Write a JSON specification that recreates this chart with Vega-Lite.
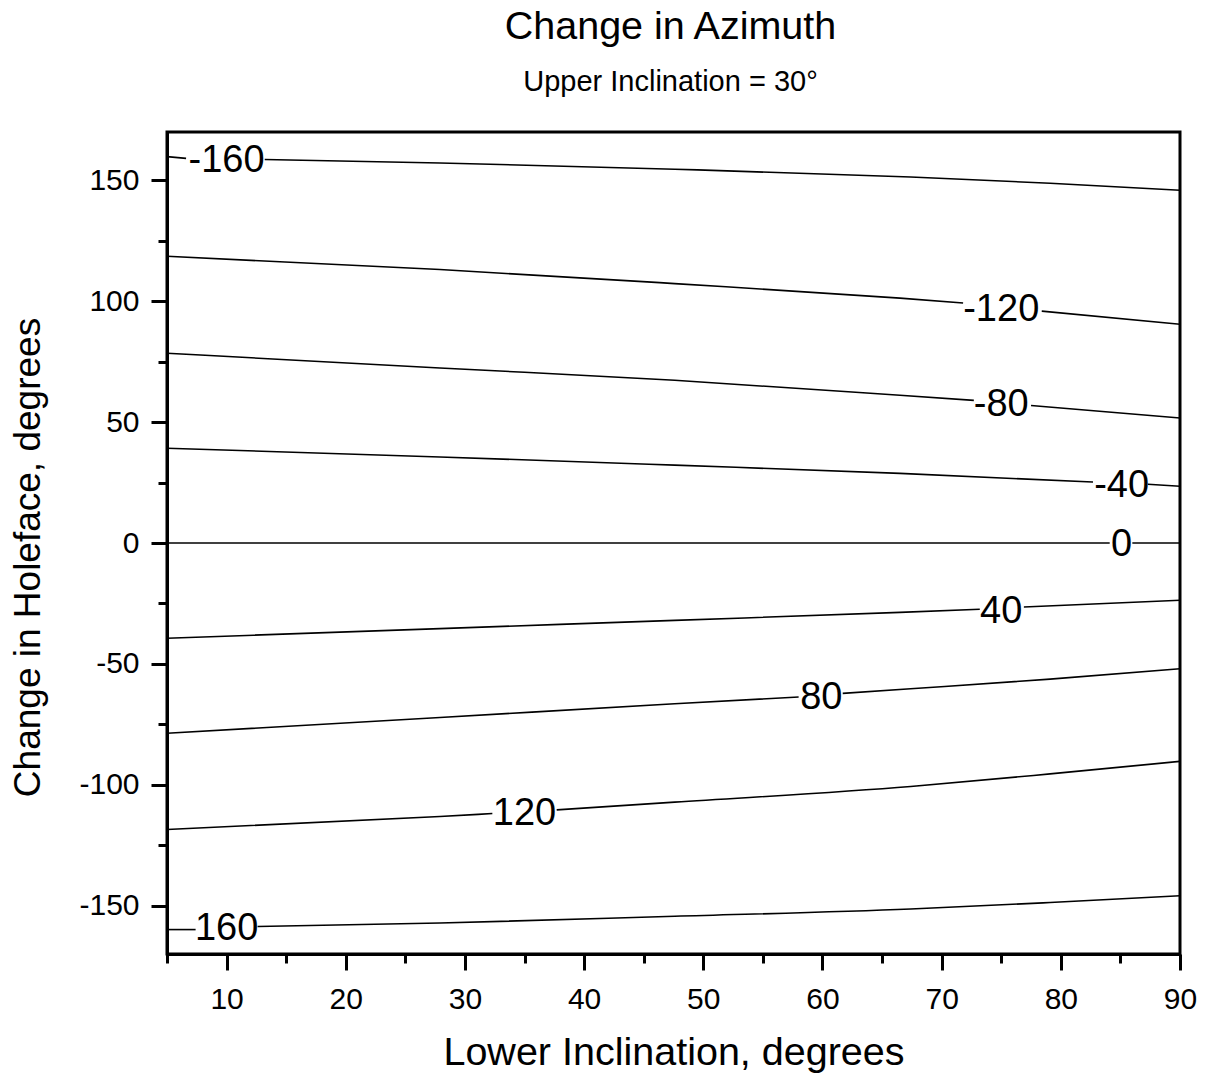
{
  "$schema": "https://vega.github.io/schema/vega-lite/v6.json",
  "autosize": {"type": "none"},
  "padding": {"left": 167, "top": 132, "right": 35, "bottom": 124},
  "width": 1013,
  "height": 822,
  "background": "white",
  "config": {
    "view": {"stroke": "black", "strokeWidth": 3},
    "font": "Liberation Sans"
  },
  "title": {
    "text": "Change in Azimuth",
    "subtitle": "Upper Inclination = 30°",
    "font": "Liberation Sans",
    "subtitleFont": "Liberation Sans",
    "fontSize": 39.5,
    "subtitleFontSize": 29,
    "fontWeight": "normal",
    "color": "black",
    "subtitleColor": "black",
    "anchor": "middle",
    "dx": -3,
    "offset": 34,
    "subtitlePadding": 21
  },
  "datasets": {
    "lines": [
      {"seg": "n160a", "x": 5, "y": 159.8},
      {"seg": "n160a", "x": 6.6, "y": 159.1},
      {"seg": "n160b", "x": 13.2, "y": 158.6},
      {"seg": "n160b", "x": 27.9, "y": 157.2},
      {"seg": "n160b", "x": 47.6, "y": 154.6},
      {"seg": "n160b", "x": 67.4, "y": 151.4},
      {"seg": "n160b", "x": 79.1, "y": 148.8},
      {"seg": "n160b", "x": 90, "y": 145.9},
      {"seg": "n120a", "x": 5, "y": 118.6},
      {"seg": "n120a", "x": 27.9, "y": 113.1},
      {"seg": "n120a", "x": 47.6, "y": 107.3},
      {"seg": "n120a", "x": 66.5, "y": 101.3},
      {"seg": "n120a", "x": 71.8, "y": 99.3},
      {"seg": "n120b", "x": 78.4, "y": 95.9},
      {"seg": "n120b", "x": 90, "y": 90.5},
      {"seg": "n80a", "x": 5, "y": 78.5},
      {"seg": "n80a", "x": 27.9, "y": 72.4},
      {"seg": "n80a", "x": 47.6, "y": 67.3},
      {"seg": "n80a", "x": 66.5, "y": 61.1},
      {"seg": "n80a", "x": 72.7, "y": 59.0},
      {"seg": "n80b", "x": 77.5, "y": 56.9},
      {"seg": "n80b", "x": 90, "y": 51.7},
      {"seg": "n40a", "x": 5, "y": 39.2},
      {"seg": "n40a", "x": 27.9, "y": 35.6},
      {"seg": "n40a", "x": 47.6, "y": 32.2},
      {"seg": "n40a", "x": 66.5, "y": 28.8},
      {"seg": "n40a", "x": 82.7, "y": 25.2},
      {"seg": "n40b", "x": 87.3, "y": 24.3},
      {"seg": "n40b", "x": 90, "y": 23.5},
      {"seg": "z0a", "x": 5, "y": 0},
      {"seg": "z0a", "x": 84.1, "y": 0},
      {"seg": "z0b", "x": 86.0, "y": 0},
      {"seg": "z0b", "x": 90, "y": 0},
      {"seg": "p40a", "x": 5, "y": -39.4},
      {"seg": "p40a", "x": 27.9, "y": -35.4},
      {"seg": "p40a", "x": 47.6, "y": -32.0},
      {"seg": "p40a", "x": 66.5, "y": -28.7},
      {"seg": "p40a", "x": 73.2, "y": -27.4},
      {"seg": "p40b", "x": 76.9, "y": -26.5},
      {"seg": "p40b", "x": 90, "y": -23.7},
      {"seg": "p80a", "x": 5, "y": -78.7},
      {"seg": "p80a", "x": 27.9, "y": -72.2},
      {"seg": "p80a", "x": 47.6, "y": -66.5},
      {"seg": "p80a", "x": 58.0, "y": -63.7},
      {"seg": "p80b", "x": 61.7, "y": -62.2},
      {"seg": "p80b", "x": 67.4, "y": -60.3},
      {"seg": "p80b", "x": 79.1, "y": -56.3},
      {"seg": "p80b", "x": 90, "y": -52.0},
      {"seg": "p120a", "x": 5, "y": -118.5},
      {"seg": "p120a", "x": 27.9, "y": -113.1},
      {"seg": "p120a", "x": 32.3, "y": -111.9},
      {"seg": "p120b", "x": 37.7, "y": -110.4},
      {"seg": "p120b", "x": 47.6, "y": -107.2},
      {"seg": "p120b", "x": 67.4, "y": -100.7},
      {"seg": "p120b", "x": 79.1, "y": -95.5},
      {"seg": "p120b", "x": 90, "y": -90.3},
      {"seg": "p160a", "x": 5, "y": -159.9},
      {"seg": "p160a", "x": 7.4, "y": -159.9},
      {"seg": "p160b", "x": 12.6, "y": -158.6},
      {"seg": "p160b", "x": 27.9, "y": -157.2},
      {"seg": "p160b", "x": 47.6, "y": -154.4},
      {"seg": "p160b", "x": 67.4, "y": -151.4},
      {"seg": "p160b", "x": 79.1, "y": -148.7},
      {"seg": "p160b", "x": 90, "y": -145.9}
    ],
    "labels": [
      {"x": 10.0, "y": 159.0, "label": "-160"},
      {"x": 75.0, "y": 97.3, "label": "-120"},
      {"x": 75.0, "y": 57.8, "label": "-80"},
      {"x": 85.1, "y": 24.6, "label": "-40"},
      {"x": 85.1, "y": 0, "label": "0"},
      {"x": 75.0, "y": -27.8, "label": "40"},
      {"x": 59.9, "y": -63.2, "label": "80"},
      {"x": 35.0, "y": -111.4, "label": "120"},
      {"x": 10.0, "y": -159.0, "label": "160"}
    ]
  },
  "encoding": {
    "x": {
      "field": "x",
      "type": "quantitative",
      "scale": {"domain": [5, 90], "nice": false, "zero": false},
      "axis": {
        "title": "Lower Inclination, degrees",
        "values": [5, 10, 15, 20, 25, 30, 35, 40, 45, 50, 55, 60, 65, 70, 75, 80, 85, 90],
        "labelExpr": "datum.value % 10 === 0 ? '' + datum.value : ''",
        "grid": false,
        "domainColor": "black",
        "domainWidth": 3,
        "tickColor": "black",
        "tickWidth": 3,
        "tickSize": {"condition": {"test": "datum.value % 10 === 0", "value": 16}, "value": 9},
        "labelFont": "Liberation Sans",
        "labelFontSize": 30,
        "labelColor": "black",
        "labelPadding": 14,
        "labelFlush": false,
        "labelOverlap": false,
        "titleFont": "Liberation Sans",
        "titleFontSize": 39.5,
        "titleFontWeight": "normal",
        "titleColor": "black",
        "titlePadding": 19
      }
    },
    "y": {
      "field": "y",
      "type": "quantitative",
      "scale": {"domain": [-170, 170], "nice": false, "zero": false},
      "axis": {
        "title": "Change in Holeface, degrees",
        "values": [-150, -125, -100, -75, -50, -25, 0, 25, 50, 75, 100, 125, 150],
        "labelExpr": "datum.value % 50 === 0 ? '' + datum.value : ''",
        "grid": false,
        "domainColor": "black",
        "domainWidth": 3,
        "tickColor": "black",
        "tickWidth": 3,
        "tickSize": {"condition": {"test": "datum.value % 50 === 0", "value": 16}, "value": 9},
        "labelFont": "Liberation Sans",
        "labelFontSize": 30,
        "labelColor": "black",
        "labelPadding": 12,
        "labelFlush": false,
        "labelOverlap": false,
        "titleFont": "Liberation Sans",
        "titleFontSize": 37,
        "titleFontWeight": "normal",
        "titleColor": "black",
        "titlePadding": 31,
        "titleY": 425
      }
    }
  },
  "layer": [
    {
      "data": {"name": "lines"},
      "mark": {"type": "line", "color": "black", "strokeWidth": 1.6, "clip": true, "interpolate": "monotone"},
      "encoding": {"detail": {"field": "seg", "type": "nominal"}}
    },
    {
      "data": {"name": "labels"},
      "mark": {"type": "text", "font": "Liberation Sans", "fontSize": 38, "color": "black", "align": "center", "baseline": "middle", "dy": 2},
      "encoding": {"text": {"field": "label", "type": "nominal"}}
    }
  ]
}
